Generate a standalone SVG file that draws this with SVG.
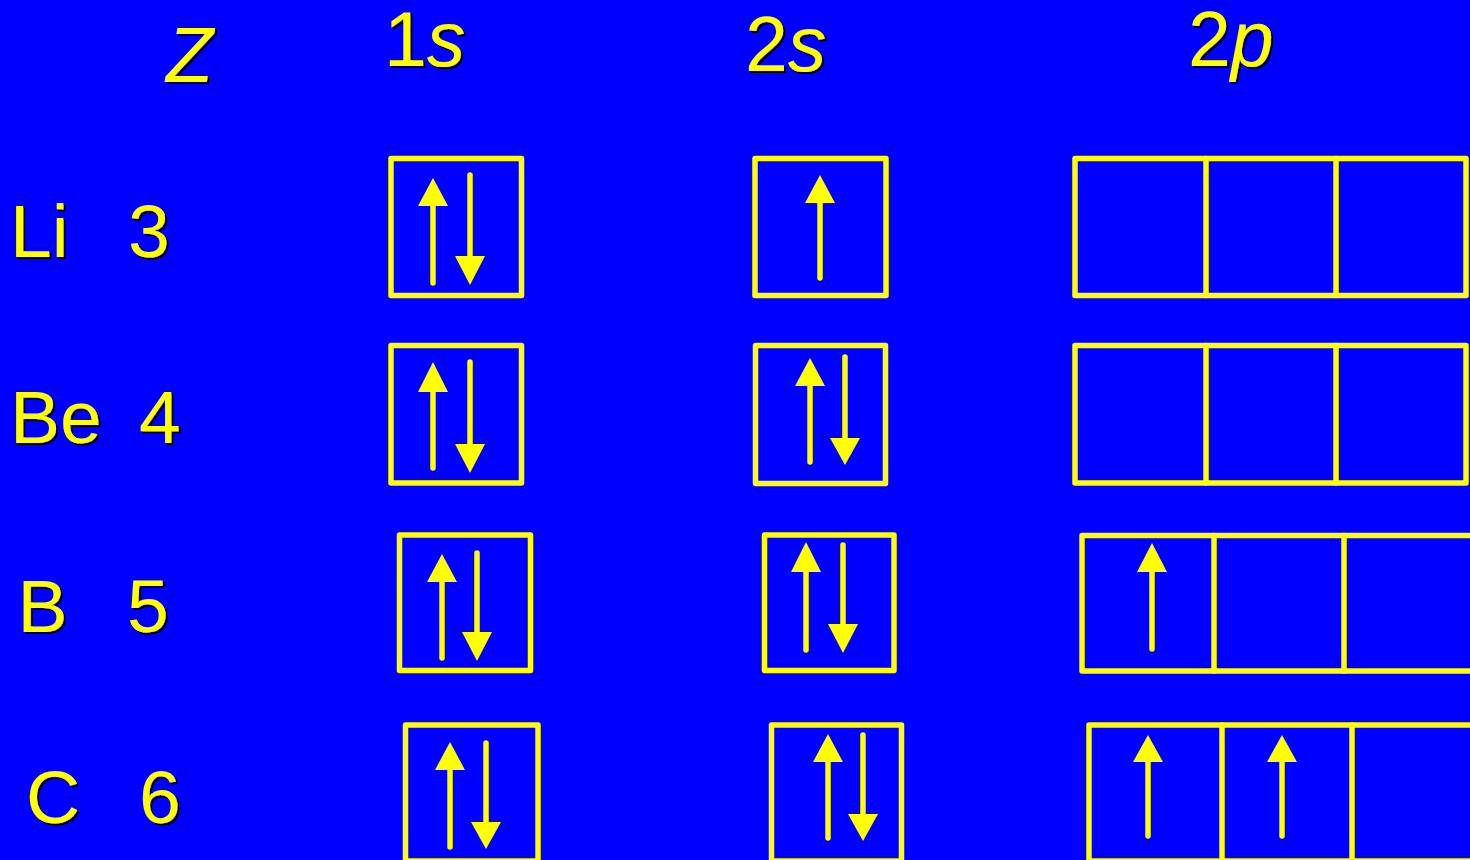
<svg xmlns="http://www.w3.org/2000/svg" width="1470" height="860" viewBox="0 0 1470 860">
<style>
.t{font-family:"Liberation Sans",Arial,sans-serif;font-size:75px;fill:#FFFF00;filter:url(#sh)}
.h{font-size:77px}
.i{font-style:italic}
.box{fill:none;stroke:#FFFF00;stroke-width:5.5;stroke-linejoin:round}
.sh{stroke:#FFFF00;stroke-width:5.5;stroke-linecap:round;fill:none}
.hd{fill:#FFFF00}
</style>
<defs>
<filter id="sh" x="-10%" y="-10%" width="130%" height="130%">
<feDropShadow dx="2" dy="2" stdDeviation="0.4" flood-color="#000000" flood-opacity="1"/>
</filter>
</defs>
<rect x="0" y="0" width="1470" height="860" fill="#0000FF"/>
<g id="headers">
<text class="t h i" x="166" y="82">Z</text>
<text class="t h" x="384" y="66">1<tspan class="i">s</tspan></text>
<text class="t h" x="745" y="71">2<tspan class="i">s</tspan></text>
<text class="t h" x="1188" y="66">2<tspan class="i">p</tspan></text>
</g>
<g id="row-li">
<text class="t" x="10" y="257">Li</text>
<text class="t" x="128" y="257">3</text>
<rect class="box" x="391" y="158.5" width="130.5" height="137"/>
<line class="sh" x1="433" y1="283" x2="433" y2="203"/><polygon class="hd" points="418,206 448,206 433,178"/>
<line class="sh" x1="470" y1="175" x2="470" y2="258"/><polygon class="hd" points="455,256 485,256 470,285"/>
<rect class="box" x="755" y="158.5" width="131" height="137"/>
<line class="sh" x1="820" y1="278" x2="820" y2="200"/><polygon class="hd" points="805,203 835,203 820,175"/>
<rect class="box" x="1075" y="158.5" width="391" height="137"/>
<line class="sh" x1="1206" y1="158.5" x2="1206" y2="295.5" stroke-linecap="butt"/>
<line class="sh" x1="1336" y1="158.5" x2="1336" y2="295.5" stroke-linecap="butt"/>
</g>
<g id="row-be">
<text class="t" x="10" y="443">Be</text>
<text class="t" x="139" y="443">4</text>
<rect class="box" x="391" y="345.5" width="130.5" height="137.5"/>
<line class="sh" x1="433" y1="468" x2="433" y2="388"/><polygon class="hd" points="418,392 448,392 433,362"/>
<line class="sh" x1="470" y1="362" x2="470" y2="446"/><polygon class="hd" points="455,444 485,444 470,473"/>
<rect class="box" x="755.5" y="345.5" width="130" height="138"/>
<line class="sh" x1="810" y1="462" x2="810" y2="383"/><polygon class="hd" points="795,386 825,386 810,358"/>
<line class="sh" x1="845" y1="357" x2="845" y2="440"/><polygon class="hd" points="830,438 860,438 845,465"/>
<rect class="box" x="1075" y="345.5" width="391" height="137.5"/>
<line class="sh" x1="1206" y1="345.5" x2="1206" y2="483" stroke-linecap="butt"/>
<line class="sh" x1="1336" y1="345.5" x2="1336" y2="483" stroke-linecap="butt"/>
</g>
<g id="row-b">
<text class="t" x="17.5" y="632">B</text>
<text class="t" x="127" y="632">5</text>
<rect class="box" x="399.5" y="535" width="131" height="135.5"/>
<line class="sh" x1="442" y1="658" x2="442" y2="579"/><polygon class="hd" points="427,582 457,582 442,554"/>
<line class="sh" x1="477" y1="553" x2="477" y2="634"/><polygon class="hd" points="462,632 492,632 477,661"/>
<rect class="box" x="764.5" y="535" width="129.5" height="135.5"/>
<line class="sh" x1="806" y1="650" x2="806" y2="569"/><polygon class="hd" points="791,572 821,572 806,542"/>
<line class="sh" x1="843" y1="545" x2="843" y2="626"/><polygon class="hd" points="828,624 858,624 843,653"/>
<rect class="box" x="1082" y="535.5" width="392" height="135.5"/>
<line class="sh" x1="1214" y1="535.5" x2="1214" y2="671" stroke-linecap="butt"/>
<line class="sh" x1="1344" y1="535.5" x2="1344" y2="671" stroke-linecap="butt"/>
<line class="sh" x1="1152" y1="649" x2="1152" y2="569"/><polygon class="hd" points="1137,572 1167,572 1152,543"/>
</g>
<g id="row-c">
<text class="t" x="26" y="823">C</text>
<text class="t" x="139" y="823">6</text>
<rect class="box" x="405.5" y="725" width="132.5" height="136"/>
<line class="sh" x1="450" y1="847" x2="450" y2="767"/><polygon class="hd" points="435,770 465,770 450,742"/>
<line class="sh" x1="486" y1="743" x2="486" y2="824"/><polygon class="hd" points="471,822 501,822 486,849"/>
<rect class="box" x="771.5" y="725" width="130" height="136"/>
<line class="sh" x1="828" y1="838" x2="828" y2="759"/><polygon class="hd" points="813,762 843,762 828,734"/>
<line class="sh" x1="863" y1="735" x2="863" y2="816"/><polygon class="hd" points="848,814 878,814 863,841"/>
<rect class="box" x="1089" y="725" width="392" height="136"/>
<line class="sh" x1="1222" y1="725" x2="1222" y2="861" stroke-linecap="butt"/>
<line class="sh" x1="1352" y1="725" x2="1352" y2="861" stroke-linecap="butt"/>
<line class="sh" x1="1148" y1="836" x2="1148" y2="759"/><polygon class="hd" points="1133,762 1163,762 1148,735"/>
<line class="sh" x1="1282" y1="836" x2="1282" y2="759"/><polygon class="hd" points="1267,762 1297,762 1282,735"/>
</g>
</svg>
